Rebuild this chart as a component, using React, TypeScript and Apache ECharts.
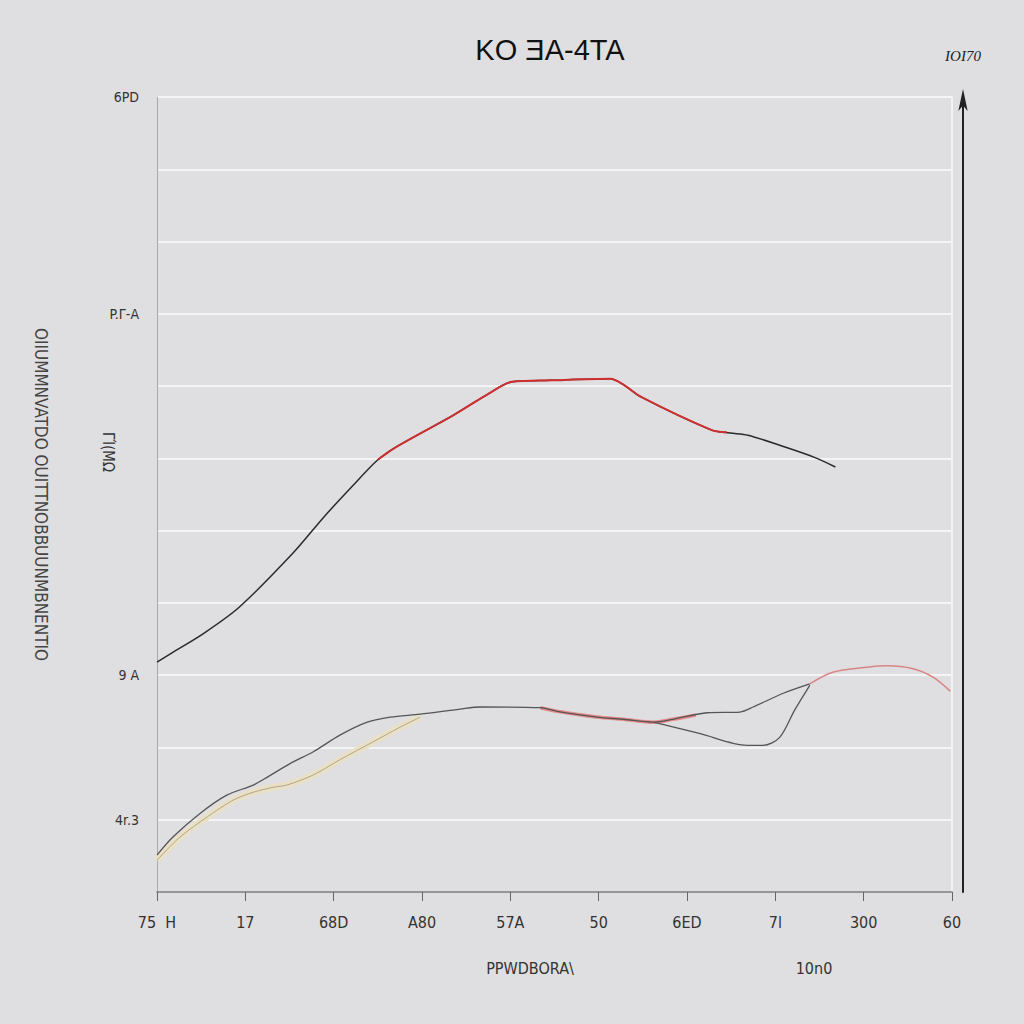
import React, { useEffect, useRef } from "react";
import * as echarts from "echarts";

const titleText = "KO ƎA-4TA";
const xLabels = ["75  H", "17", "68D", "A80", "57A", "50", "6ED", "7l", "300", "60"];
const yLabelMap: Record<number, string> = { 11: "6PD", 8: "P.Γ-A", 3: "9 A", 1: "4r.3" };
const yAxisTitle = "OIIUMMNVATDO OUITTNOBBUUNMBNENTIO";
const sideLabel = "ΓΊ(ΜΩ";
const xName1 = "PPWDBORA\\";
const xName2 = "10n0";
const rightAxisName = "IOI70";

const upperDark: number[][] = [
  [0, 3.18], [0.17, 3.31], [0.53, 3.58], [0.93, 3.94], [1.54, 4.69], [1.89, 5.19],
  [2.2, 5.6], [2.5, 5.98], [2.71, 6.16], [3.36, 6.6], [3.76, 6.9], [4.02, 7.06],
  [4.47, 7.08], [5.13, 7.1], [5.28, 7.02], [5.48, 6.85], [6.28, 6.39], [6.49, 6.35],
  [6.69, 6.32], [7.1, 6.16], [7.45, 6.01], [7.68, 5.88],
];
const upperRed: number[][] = [
  [2.5, 5.98], [2.71, 6.16], [3.36, 6.6], [3.76, 6.9], [4.02, 7.06], [4.47, 7.08],
  [5.13, 7.1], [5.28, 7.02], [5.48, 6.85], [6.28, 6.39], [6.45, 6.36],
];
const lowerDark: number[][] = [
  [0, 0.51], [0.18, 0.76], [0.49, 1.09], [0.79, 1.34], [1.09, 1.48], [1.25, 1.59],
  [1.51, 1.78], [1.77, 1.94], [2.07, 2.17], [2.38, 2.35], [2.64, 2.42], [2.98, 2.46],
  [3.43, 2.53], [3.66, 2.56], [4.34, 2.55], [4.53, 2.5], [4.98, 2.42], [5.28, 2.39],
  [5.62, 2.35], [5.84, 2.39], [6.23, 2.48], [6.6, 2.49], [6.75, 2.56], [7.09, 2.75],
  [7.39, 2.88],
];
const lowerBranch: number[][] = [
  [5.62, 2.35], [6.15, 2.19], [6.68, 2.03], [6.86, 2.03], [7.05, 2.14], [7.22, 2.52], [7.39, 2.86],
];
const lowerCream: number[][] = [
  [0, 0.44], [0.26, 0.76], [0.57, 1.04], [0.86, 1.27], [1.09, 1.38], [1.32, 1.45],
  [1.47, 1.48], [1.77, 1.62], [2.07, 1.83], [2.45, 2.08], [2.75, 2.28], [2.98, 2.42],
];
const lowerPinkMid: number[][] = [
  [4.34, 2.55], [4.53, 2.5], [4.98, 2.42], [5.28, 2.39], [5.62, 2.35], [5.84, 2.39], [6.1, 2.45],
];
const lowerPinkRight: number[][] = [
  [7.39, 2.88], [7.65, 3.04], [8.04, 3.11], [8.26, 3.13], [8.56, 3.09], [8.79, 2.97], [8.98, 2.78],
];

const FONT = "DejaVu Sans Condensed";

export default function App() {
  const ref = useRef<HTMLDivElement>(null);
  useEffect(() => {
    if (!ref.current) return;
    const chart = echarts.init(ref.current, undefined, { renderer: "svg" });
    const base = { type: "line", smooth: 0.3, showSymbol: false, symbol: "none", z: 3 } as any;
    chart.setOption({
      animation: false,
      backgroundColor: "#dfdfe1",
      textStyle: { fontFamily: FONT },
      title: {
        text: titleText,
        left: 545,
        top: 30,
        textAlign: "center",
        textStyle: { fontFamily: "Liberation Sans", fontSize: 29, fontWeight: "normal", color: "#111" },
      },
      grid: { left: 157, right: 72, top: 97, bottom: 132 },
      xAxis: {
        type: "value",
        min: 0,
        max: 9,
        interval: 1,
        axisLine: { show: true, lineStyle: { color: "#777", width: 1.5 } },
        axisTick: { show: true, length: 9, lineStyle: { color: "#666" } },
        splitLine: { show: false },
        axisLabel: {
          margin: 22,
          fontSize: 16,
          color: "#333",
          fontFamily: FONT,
          formatter: (v: number) => xLabels[Math.round(v)] ?? "",
        },
      },
      yAxis: [
        {
          type: "value",
          min: 0,
          max: 11,
          interval: 1,
          axisLine: { show: true, lineStyle: { color: "#aaa" } },
          axisTick: { show: false },
          splitLine: { show: true, lineStyle: { color: "#f4f4f4", width: 2 } },
          axisLabel: {
            margin: 18,
            fontSize: 14,
            color: "#333",
            fontFamily: FONT,
            formatter: (v: number) => yLabelMap[Math.round(v)] ?? "",
          },
          name: yAxisTitle,
          nameLocation: "middle",
          nameRotate: -90,
          nameGap: 108,
          nameTextStyle: { fontSize: 17, color: "#444", fontFamily: FONT },
        },
        {
          type: "value",
          min: 0,
          max: 11,
          position: "right",
          axisLine: { show: true, lineStyle: { color: "#f2f2f2", width: 2 } },
          axisTick: { show: false },
          axisLabel: { show: false },
          splitLine: { show: false },
        },
        {
          type: "value",
          min: 0,
          max: 11,
          position: "right",
          offset: 11,
          axisLine: {
            show: true,
            symbol: ["none", "arrow"],
            symbolSize: [7, 22],
            symbolOffset: [0, 8],
            lineStyle: { color: "#222", width: 2 },
          },
          axisTick: { show: false },
          axisLabel: { show: false },
          splitLine: { show: false },
          name: rightAxisName,
          nameLocation: "end",
          nameGap: 34,
          nameTextStyle: { fontSize: 15, color: "#222", fontStyle: "italic", fontFamily: "Liberation Serif", align: "center" },
        },
      ],
      graphic: [
        {
          type: "text",
          x: 108,
          y: 452,
          rotation: -Math.PI / 2,
          style: { text: sideLabel, fontSize: 15, fill: "#333", fontFamily: FONT, align: "center", verticalAlign: "middle" },
        },
        {
          type: "text",
          x: 530,
          y: 968,
          style: { text: xName1, fontSize: 16, fill: "#333", fontFamily: FONT, align: "center", verticalAlign: "middle" },
        },
        {
          type: "text",
          x: 814,
          y: 968,
          style: { text: xName2, fontSize: 16, fill: "#333", fontFamily: FONT, align: "center", verticalAlign: "middle" },
        },
      ],
      series: [
        { ...base, name: "cream", data: lowerCream, lineStyle: { color: "#e9e0c6", width: 7 }, z: 2 },
        { ...base, name: "creamEdge", data: lowerCream, lineStyle: { color: "#a89f82", width: 0.9 }, z: 3 },
        { ...base, name: "pinkMid", data: lowerPinkMid, lineStyle: { color: "#e58a8a", width: 3.5 }, z: 2 },
        { ...base, name: "lowerDark", data: lowerDark, lineStyle: { color: "#555", width: 1.3 } },
        { ...base, name: "lowerBranch", data: lowerBranch, lineStyle: { color: "#555", width: 1.3 } },
        { ...base, name: "pinkRight", data: lowerPinkRight, lineStyle: { color: "#d98585", width: 1.6 } },
        { ...base, name: "upperDark", data: upperDark, lineStyle: { color: "#2a2a2a", width: 1.5 } },
        { ...base, name: "upperRed", data: upperRed, lineStyle: { color: "#cf2f2f", width: 2 }, z: 4 },
      ],
    });
    return () => chart.dispose();
  }, []);
  return <div ref={ref} style={{ position: "absolute", left: 0, top: 0, width: 1024, height: 1024 }} />;
}
